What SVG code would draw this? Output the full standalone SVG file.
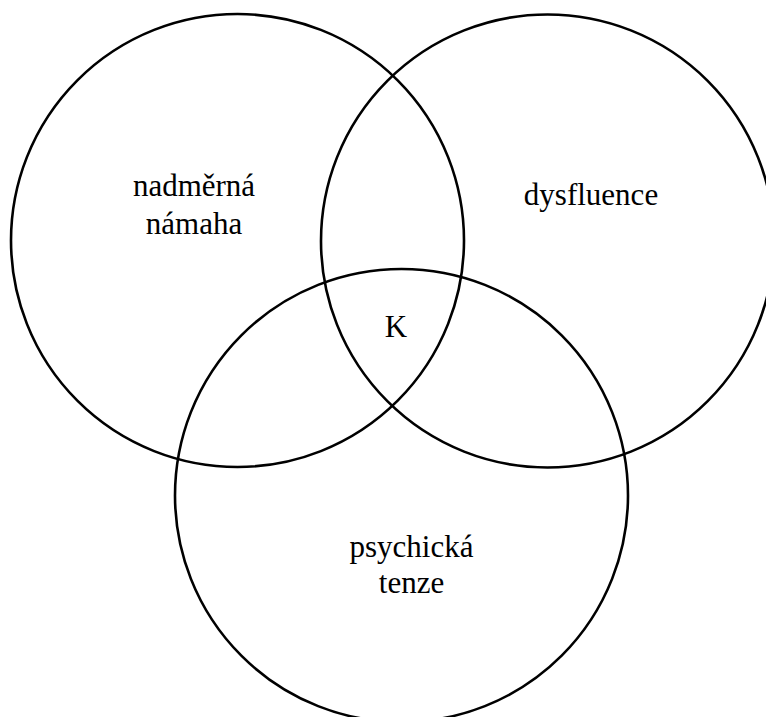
<svg xmlns="http://www.w3.org/2000/svg" width="766" height="717" viewBox="0 0 766 717">
<style>
  .c { fill: none; stroke: #000; stroke-width: 2.6; }
  .t { font-family: "Liberation Serif", "Times New Roman", serif; font-size: 31px; fill: #000; text-anchor: middle; }
</style>
<rect width="766" height="717" fill="#fff"/>
<g id="nadmerna">
  <circle class="c" cx="237.5" cy="240.5" r="226.5"/>
  <text class="t" x="194" y="196">nadměrná</text>
  <text class="t" x="194" y="234">námaha</text>
</g>
<g id="dysfluence">
  <circle class="c" cx="547.5" cy="241" r="226.5"/>
  <text class="t" x="591" y="205">dysfluence</text>
</g>
<g id="psychicka">
  <circle class="c" cx="401.5" cy="495.5" r="226.5"/>
  <text class="t" x="411.5" y="557">psychická</text>
  <text class="t" x="411.5" y="593">tenze</text>
</g>
<g id="K">
  <text class="t" x="396" y="337">K</text>
</g>
<g id="connectors"/>
</svg>
